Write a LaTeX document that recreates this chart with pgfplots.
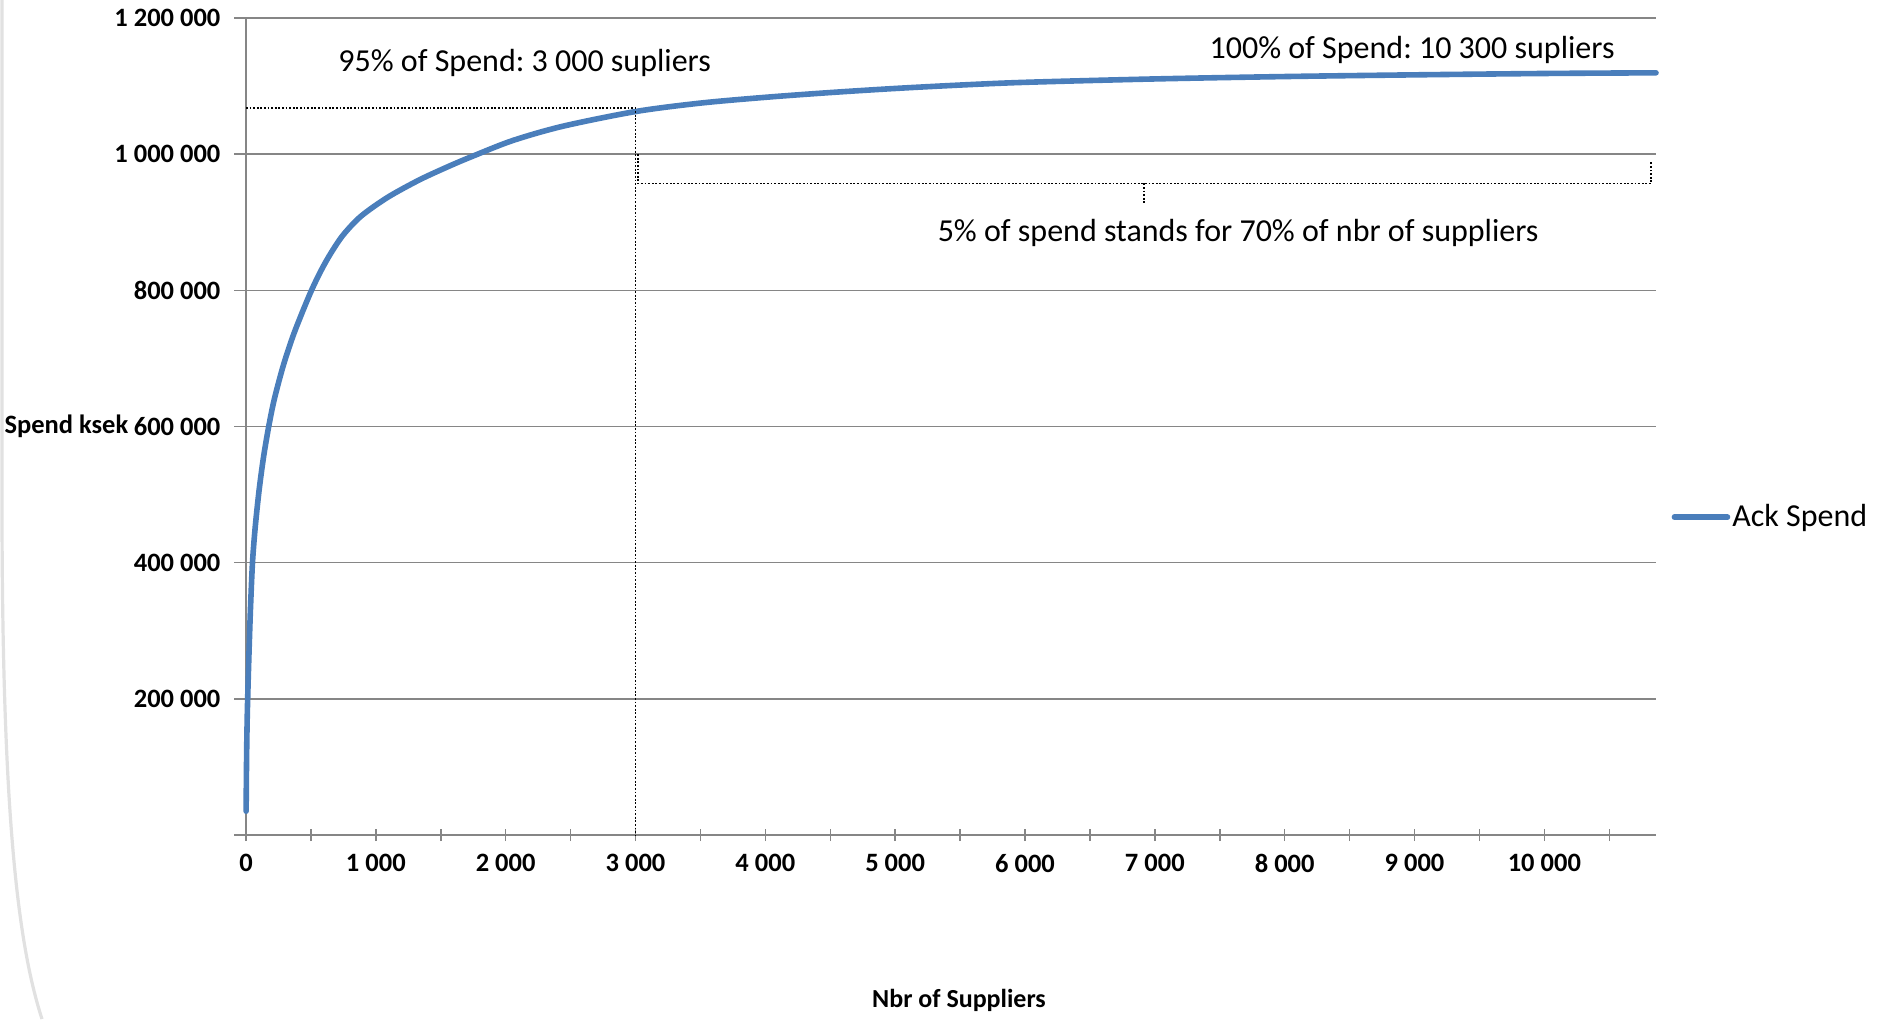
\documentclass[border=0pt]{standalone}
\usepackage{fontspec}
\setmainfont{Carlito}
\usepackage{pgfplots}
\pgfplotsset{compat=1.18}
\definecolor{gridgray}{RGB}{134,134,134}
\definecolor{xlblue}{RGB}{74,126,187}
\definecolor{framegray}{RGB}{225,225,225}
\frenchspacing
\begin{document}
\begin{tikzpicture}
\useasboundingbox (0,0) rectangle (942pt,509.5pt);
\draw[framegray, line width=1.6pt] (1pt,509.5pt) -- (1pt,260pt) .. controls (1pt,110pt) and (8pt,40pt) .. (21pt,0pt);
\begin{axis}[
  at={(123pt,92pt)}, anchor=south west,
  scale only axis, width=705pt, height=408.5pt,
  xmin=0, xmax=10860, ymin=0, ymax=1200000,
  axis lines*=left,
  axis line style={gridgray, line width=0.75pt, -},
  xtick={0,1000,...,10000},
  xticklabels={0,1 000,2 000,3 000,4 000,5 000,6 000,7 000,8 000,9 000,10 000},
  minor xtick={500,1500,...,10500},
  ytick={0,200000,400000,600000,800000,1000000,1200000},
  yticklabels={,200 000,400 000,600 000,800 000,1 000 000,1 200 000},
  scaled ticks=false,
  x tick style={gridgray, line width=0.75pt},
  y tick style={gridgray, line width=0.75pt},
  xtick align=center, ytick align=outside,
  major tick length=6pt, minor tick length=6pt,
  ymajorgrids, grid style={gridgray, line width=0.75pt},
  xmajorgrids=false,
  tick label style={font=\fontsize{13.25}{15}\selectfont\bfseries, text=black},
  yticklabel style={anchor=east, inner sep=0pt, xshift=-6.6pt},
  xticklabel style={anchor=north, inner sep=0pt, yshift=-6.5pt},
  legend style={at={(1.0111,0.389)}, anchor=west, draw=none, fill=none,
    inner sep=0pt, outer sep=0pt, font=\fontsize{16}{19}\selectfont,
    nodes={inner sep=1pt}},
  legend image code/.code={\draw[#1, line cap=round] (0pt,0pt) -- (26.5pt,0pt);},
  clip=false,
]
\addplot[xlblue, line width=2.8pt, line cap=round, line join=round, smooth, tension=0.5] coordinates {
(1,35000)(3,85000)(6,135000)(10,178000)(15,215000)(20,248000)(26,285000)
(35,335000)(50,400000)(70,450000)(100,505000)(135,555000)(175,600000)(218,640000)
(288,690000)(372,738000)(493,795000)(578,829000)(655,855000)(750,881700)(886,908900)
(1091,936600)(1335,962200)(1566,982500)(1746,997000)(2054,1020000)(2440,1041000)
(3000,1062600)(3500,1075000)(4000,1083500)(4500,1090500)(5000,1096500)(5500,1101500)
(6000,1105500)(7000,1110500)(8000,1114000)(9000,1116500)(10000,1118500)(10860,1119500)
};
\addlegendentry{Ack Spend}
\addplot[forget plot, black, line width=0.9pt, dash pattern=on 0.9pt off 0.9pt] coordinates {(0,1067500)(3000,1067500)(3000,0)};
\addplot[forget plot, black, line width=0.9pt, dash pattern=on 0.9pt off 0.9pt] coordinates {(3018,1000000)(3018,957000)(10824,957000)(10824,988000)};
\addplot[forget plot, black, line width=0.9pt, dash pattern=on 0.9pt off 0.9pt] coordinates {(6918,957000)(6918,929000)};
\node[font=\fontsize{16}{19}\selectfont, inner sep=0pt] at (axis cs:2146,1134000) {95\% of Spend: 3 000 supliers};
\node[font=\fontsize{16}{19}\selectfont, inner sep=0pt] at (axis cs:8981,1153600) {100\% of Spend: 10 300 supliers};
\node[font=\fontsize{16}{19}\selectfont, inner sep=0pt] at (axis cs:7642,884000) {5\% of spend stands for 70\% of nbr of suppliers};
\node[font=\fontsize{13.25}{15}\selectfont\bfseries, inner sep=0pt, anchor=east] at (rel axis cs:0,0.5) [xshift=-58.7pt] {Spend ksek};
\node[font=\fontsize{13}{15}\selectfont\bfseries, inner sep=0pt] at (rel axis cs:0.5,0) [xshift=4pt, yshift=-82.5pt] {Nbr of Suppliers};
\end{axis}
\end{tikzpicture}
\end{document}
